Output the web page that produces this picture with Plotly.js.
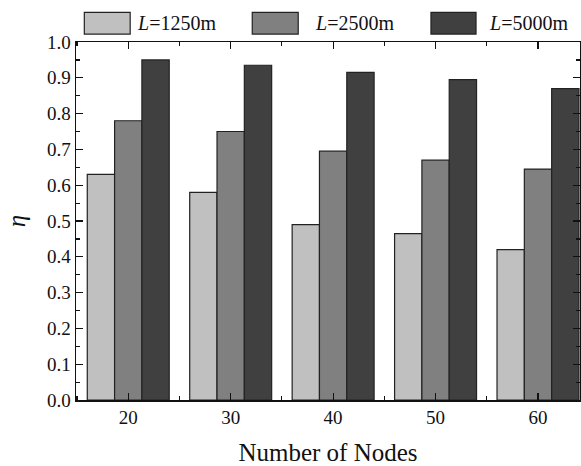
<!DOCTYPE html>
<html>
<head>
<meta charset="utf-8">
<script src="https://cdn.plot.ly/plotly-3.0.1.min.js"></script>
<style>html,body{margin:0;padding:0;background:#fff;}#chart{width:581px;height:466px;}</style>
</head>
<body>
<div id="chart"></div>
<script>
const nodes = [20, 30, 40, 50, 60];
const seriesNames = ['<i>L</i>=1250m', '<i>L</i>=2500m', '<i>L</i>=5000m'];
const eta1250 = [0.63, 0.58, 0.49, 0.465, 0.42];
const eta2500 = [0.78, 0.75, 0.695, 0.67, 0.645];
const eta5000 = [0.95, 0.935, 0.915, 0.895, 0.87];
const yTickVals = [0, 0.1, 0.2, 0.3, 0.4, 0.5, 0.6, 0.7, 0.8, 0.9, 1.0];
const yTickText = ['0.0','0.1','0.2','0.3','0.4','0.5','0.6','0.7','0.8','0.9','1.0'];

const colors = ['#c0c0c0', '#808080', '#404040'];
const seriesVals = [eta1250, eta2500, eta5000];

const traces = seriesVals.map((v, i) => ({
  type: 'bar',
  x: nodes,
  y: v,
  name: seriesNames[i],
  marker: {color: colors[i], line: {color: '#222', width: 1.2}},
  showlegend: false
}));

const f = (size) => ({family: "'Liberation Serif', 'Times New Roman', serif", size: size, color: '#111'});

const swX = [[0.0165, 0.1075], [0.3497, 0.4409], [0.7043, 0.7937]];
const txX = [0.117, 0.4702, 0.8149];
const shapes = swX.map((s, i) => ({
  type: 'rect', xref: 'paper', yref: 'paper',
  x0: s[0], x1: s[1], y0: 1.022, y1: 1.083,
  fillcolor: colors[i], line: {color: '#222', width: 1.2}
}));
const annotations = seriesNames.map((n, i) => ({
  xref: 'paper', yref: 'paper', x: txX[i], y: 1.053,
  xanchor: 'left', yanchor: 'middle', showarrow: false,
  text: n, font: f(20)
}));

const layout = {
  width: 581, height: 466,
  margin: {l: 76, r: 1, t: 42, b: 66},
  paper_bgcolor: '#fff', plot_bgcolor: '#fff',
  barmode: 'group', bargap: 0.2, bargroupgap: 0,
  font: f(19),
  xaxis: {
    range: [14.9, 64.1],
    tickmode: 'array', tickvals: nodes, ticktext: nodes.map(String),
    ticks: 'inside', ticklen: 7, tickwidth: 1.2, tickcolor: '#111',
    minor: {tickmode: 'array', tickvals: [15, 25, 35, 45, 55], ticks: 'inside', ticklen: 4, tickwidth: 1.2, tickcolor: '#111'},
    showline: true, linecolor: '#111', linewidth: 1.5, mirror: 'allticks',
    showgrid: false, zeroline: false,
    tickfont: f(19),
    title: {text: 'Number of Nodes', font: f(25), standoff: 20}
  },
  yaxis: {
    range: [0, 1.0],
    tickmode: 'array', tickvals: yTickVals, ticktext: yTickText,
    ticks: 'inside', ticklen: 7, tickwidth: 1.2, tickcolor: '#111',
    minor: {dtick: 0.05, tick0: 0, ticks: 'inside', ticklen: 4, tickwidth: 1.2, tickcolor: '#111'},
    showline: true, linecolor: '#111', linewidth: 1.5, mirror: 'allticks',
    showgrid: false, zeroline: false,
    tickfont: f(19),
    title: {text: '<i>η</i>', font: f(25), standoff: 14}
  },
  shapes: shapes,
  annotations: annotations
};

Plotly.newPlot('chart', traces, layout, {displayModeBar: false, staticPlot: true});
</script>
</body>
</html>
